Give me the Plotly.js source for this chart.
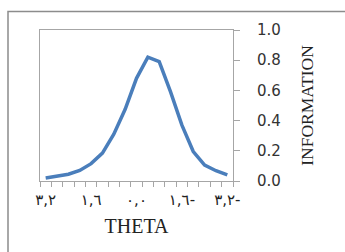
<!DOCTYPE html>
<html><head><meta charset="utf-8">
<script src="https://cdn.plot.ly/plotly-3.0.1.min.js"></script>
<style>html,body{margin:0;padding:0;background:#fff;overflow:hidden}</style>
</head><body>
<div id="chart" style="width:345px;height:252px"></div>
<script>
var theta = [3.2, 2.8, 2.4, 2.0, 1.6, 1.2, 0.8, 0.4, 0.0, -0.4, -0.8, -1.2, -1.6, -2.0, -2.4, -2.8, -3.2];
var information = [0.02, 0.03, 0.045, 0.07, 0.115, 0.185, 0.31, 0.475, 0.68, 0.82, 0.79, 0.59, 0.37, 0.195, 0.105, 0.068, 0.04];
var xTickVals = [3.2, 1.6, 0.0, -1.6, -3.2];
var xTickText = ["٣,٢", "١,٦", "٠,٠", "١,٦-", "٣,٢-"];

var trace = {
  x: theta, y: information, type: 'scatter', mode: 'lines',
  line: {color: '#4A7EBB', width: 3.5}, hoverinfo: 'none'
};
var layout = {
  width: 345, height: 252,
  margin: {l: 40, r: 112, t: 30, b: 71, pad: 0},
  paper_bgcolor: '#fff', plot_bgcolor: '#fff',
  showlegend: false,
  xaxis: {
    range: [3.4, -3.4], showgrid: false, zeroline: false,
    showline: true, linecolor: '#a6a6a6', linewidth: 1, mirror: true,
    tickmode: 'array', tickvals: xTickVals, ticktext: xTickText, ticks: '',
    ticklabelstandoff: 5,
    tickfont: {family: 'DejaVu Sans', size: 15, color: '#222'},
    minor: {ticks: 'outside', tick0: 3.4, dtick: 0.4, ticklen: 5, tickcolor: '#a6a6a6', tickwidth: 1, showgrid: false},
    title: {text: 'THETA', font: {family: 'Liberation Serif', size: 20, color: '#222'}, standoff: 10}
  },
  yaxis: {
    side: 'right', range: [0, 1], dtick: 0.2, tickformat: '.1f',
    showgrid: false, zeroline: false,
    showline: true, linecolor: '#a6a6a6', linewidth: 1, mirror: true,
    ticks: 'outside', ticklen: 6, tickcolor: '#a6a6a6', tickwidth: 1,
    ticklabelstandoff: 14,
    tickfont: {family: 'DejaVu Sans', size: 15, color: '#333'},
    title: {text: 'INFORMATION', font: {family: 'Liberation Serif', size: 17.5, color: '#222'}, standoff: 20}
  },
  shapes: [{
    type: 'rect', xref: 'paper', yref: 'paper',
    x0: (8 - 40) / 193, x1: 3, y0: -3, y1: (181 - 11.5) / 151,
    line: {color: '#8c8c8c', width: 1.5}, layer: 'below'
  }]
};
Plotly.newPlot('chart', [trace], layout, {staticPlot: true, displayModeBar: false});
</script>
</body></html>
